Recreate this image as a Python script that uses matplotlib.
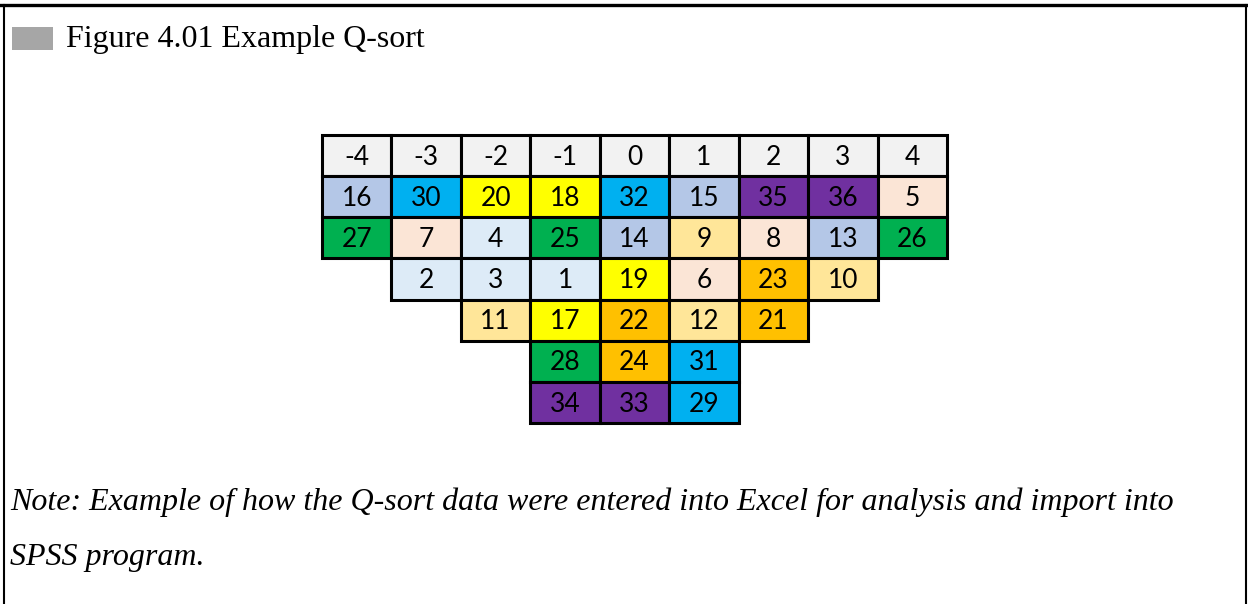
import matplotlib
matplotlib.use("Agg")
import matplotlib.pyplot as plt
from matplotlib.patches import Rectangle
from matplotlib.lines import Line2D

# Q-sort grid: score columns and the statement numbers placed in each column (top to bottom)
scores = [-4, -3, -2, -1, 0, 1, 2, 3, 4]
column_items = [
    [16, 27],
    [30, 7, 2],
    [20, 4, 3, 11],
    [18, 25, 1, 17, 28, 34],
    [32, 14, 19, 22, 24, 33],
    [15, 9, 6, 12, 31, 29],
    [35, 8, 23, 21],
    [36, 13, 10],
    [5, 26],
]
# one fill colour per block of four statements (1-4, 5-8, ...)
group_colors = ['#DDEBF7', '#FBE5D6', '#FFE699', '#B4C7E7', '#FFFF00',
                '#FFC000', '#00B050', '#00B0F0', '#7030A0']
header_color = '#F2F2F2'

title = "Figure 4.01 Example Q-sort"
note = ("Note: Example of how the Q-sort data were entered into Excel for analysis and import into\n"
        "SPSS program.")

W, H = 1248, 604
fig = plt.figure(figsize=(W / 100, H / 100), dpi=100)

# frame round the figure (top, left, right)
fig.add_artist(Line2D([0, 1], [1 - 5 / H, 1 - 5 / H], transform=fig.transFigure, color='black', lw=2.4))
fig.add_artist(Line2D([4 / W, 4 / W], [0, 1 - 5 / H], transform=fig.transFigure, color='black', lw=1.5))
fig.add_artist(Line2D([1246 / W, 1246 / W], [0, 1 - 5 / H], transform=fig.transFigure, color='black', lw=1.5))

# caption marker and title
fig.add_artist(Rectangle((12 / W, 1 - 50 / H), 41 / W, 23 / H, transform=fig.transFigure,
                         facecolor='#A6A6A6', edgecolor='none'))
fig.text(66 / W, 1 - 40 / H, title, family='Liberation Serif', fontsize=23, va='center', ha='left')

# note text
lines = note.split("\n")
fig.text(10 / W, 1 - 502 / H, lines[0], family='Liberation Serif', style='italic',
         fontsize=23, va='center', ha='left')
fig.text(10 / W, 1 - 558 / H, lines[1], family='Liberation Serif', style='italic',
         fontsize=23, va='center', ha='left')

# grid axes
left, right, top, bottom = 322, 947, 135, 423
nrows = 1 + max(len(c) for c in column_items)
ax = fig.add_axes([left / W, 1 - bottom / H, (right - left) / W, (bottom - top) / H])
ax.set_xlim(0, len(scores))
ax.set_ylim(nrows, 0)
ax.axis('off')

cell_font = dict(family=['Lato', 'DejaVu Sans'], fontsize=19, ha='center', va='center', color='black')
lw = 2.2
for ci, (score, items) in enumerate(zip(scores, column_items)):
    ax.add_patch(Rectangle((ci, 0), 1, 1, facecolor=header_color, edgecolor='black', lw=lw, clip_on=False))
    ax.text(ci + 0.5, 0.54, str(score), **cell_font)
    for ri, item in enumerate(items, start=1):
        col = group_colors[(item - 1) // 4]
        ax.add_patch(Rectangle((ci, ri), 1, 1, facecolor=col, edgecolor='black', lw=lw, clip_on=False))
        ax.text(ci + 0.5, ri + 0.54, str(item), **cell_font)

fig.savefig("out.png", dpi=100)
